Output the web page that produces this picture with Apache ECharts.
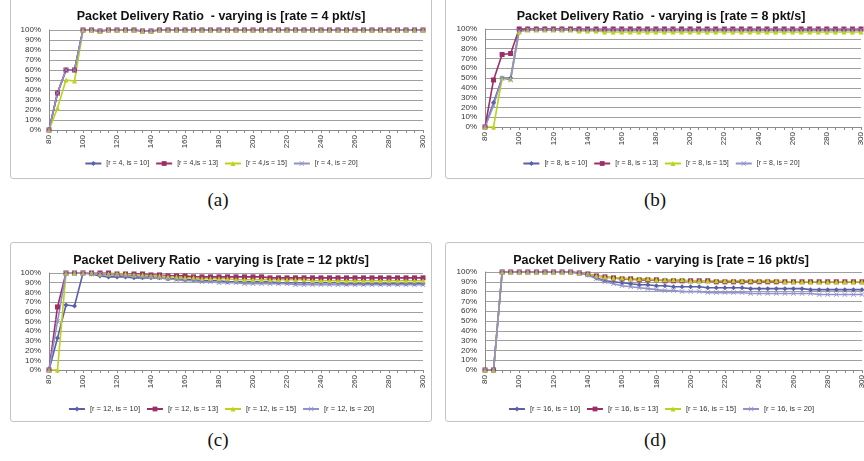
<!DOCTYPE html>
<html>
<head>
<meta charset="utf-8">
<script src="https://cdn.jsdelivr.net/npm/echarts@6/dist/echarts.min.js"></script>
<style>
body{margin:0;background:#fff;width:864px;height:461px;overflow:hidden;position:relative;}
.box{position:absolute;border:1px solid #c4c4c4;border-radius:3px;}
.chart{width:100%;height:100%;}
.cap{position:absolute;font-family:"Liberation Serif",serif;font-size:19px;color:#111;width:60px;text-align:center;}
</style>
</head>
<body>
<div class="box" style="left:10px;top:-3px;width:420px;height:180px"><div id="pa" class="chart"></div></div>
<div class="box" style="left:445px;top:-3px;width:430px;height:180px"><div id="pb" class="chart"></div></div>
<div class="box" style="left:10px;top:242px;width:420px;height:178px"><div id="pc" class="chart"></div></div>
<div class="box" style="left:445px;top:242px;width:430px;height:178px"><div id="pd" class="chart"></div></div>
<div class="cap" style="left:188px;top:189px">(a)</div>
<div class="cap" style="left:625px;top:189px">(b)</div>
<div class="cap" style="left:188px;top:429px">(c)</div>
<div class="cap" style="left:625px;top:429px">(d)</div>
<script>
// x轴：is 取值
var xs = ['80','85','90','95','100','105','110','115','120','125','130','135','140','145','150','155','160','165','170','175','180','185','190','195','200','205','210','215','220','225','230','235','240','245','250','255','260','265','270','275','280','285','290','295','300'];

// (a) rate = 4
var a10 = [0,37,60,60,100,100,99,100,100,100,100,99,99,100,100,100,100,100,100,100,100,100,100,100,100,100,100,100,100,100,100,100,100,100,100,100,100,100,100,100,100,100,100,100,100];
var a13 = [0,37,60,60,100,100,99,100,100,100,100,99,99,100,100,100,100,100,100,100,100,100,100,100,100,100,100,100,100,100,100,100,100,100,100,100,100,100,100,100,100,100,100,100,100];
var a15 = [0,22,50,49,100,100,99,100,100,100,100,99,99,100,100,100,100,100,100,100,100,100,100,100,100,100,100,100,100,100,100,100,100,100,100,100,100,100,100,100,100,100,100,100,100];
var a20 = [0,37,60,60,100,100,99,100,100,100,100,99,99,100,100,100,100,100,100,100,100,100,100,100,100,100,100,100,100,100,100,100,100,100,100,100,100,100,100,100,100,100,100,100,100];

// (b) rate = 8
var b10 = [0,25,50,50,100,100,100,100,100,100,100,100,99,99,99,99,99,99,99,99,99,99,99,99,99,99,99,99,99,99,99,99,99,99,99,99,99,99,99,99,99,99,99,99,99];
var b13 = [0,48,74,75,100,100,100,100,100,100,100,100,100,100,100,100,100,100,100,100,100,100,100,100,100,100,100,100,100,100,100,100,100,100,100,100,100,100,100,100,100,100,100,100,100];
var b15 = [0,0,50,49,97,99,99,99,99,99,99,98,98,98,97,97,97,97,97,97,97,97,97,97,97,97,97,97,97,97,97,97,97,97,97,97,97,97,97,97,97,97,97,97,97];
var b20 = [0,22,50,48,98,99,99,99,99,99,99,99,99,99,99,99,99,99,99,99,99,99,99,99,99,99,99,99,99,99,99,99,99,99,99,99,99,99,99,99,99,99,99,99,99];

// (c) rate = 12
var c10 = [0,33,67,66,100,99,97,96,96,96,95,95,95,95,94,94,93,93,92,92,92,91,91,91,91,91,91,90,90,90,90,90,90,90,90,89,89,89,89,89,89,89,89,89,89];
var c13 = [0,65,100,100,100,100,100,100,99,99,99,99,98,98,97,97,97,96,96,96,96,96,96,96,96,96,95,95,95,95,95,95,95,95,95,95,95,95,95,95,95,95,95,95,95];
var c15 = [0,0,100,100,100,100,99,99,99,99,98,98,97,97,96,96,95,95,94,94,94,94,93,93,93,93,93,93,93,93,93,92,92,92,92,92,92,92,92,92,92,92,92,92,92];
var c20 = [0,50,100,100,100,99,99,98,98,97,97,96,96,95,94,93,92,92,91,91,90,90,90,89,89,89,89,89,89,88,88,88,88,88,88,88,88,88,88,88,88,88,88,88,88];

// (d) rate = 16
var d10 = [0,0,100,100,100,100,100,100,100,100,100,99,97,94,91,90,89,88,87,87,86,86,85,85,85,85,84,84,84,84,84,83,83,83,83,83,83,83,82,82,82,82,82,82,82];
var d13 = [0,0,100,100,100,100,100,100,100,100,100,99,98,96,95,94,93,93,92,92,92,91,91,91,91,91,91,90,90,90,90,90,90,90,90,90,90,90,90,90,90,90,90,90,90];
var d15 = [0,0,100,100,100,100,100,100,100,100,100,99,98,96,95,94,94,93,93,93,92,92,92,92,91,91,91,91,91,91,91,91,91,91,91,90,90,90,90,90,90,90,90,90,90];
var d20 = [0,0,100,100,100,100,100,100,100,100,100,99,97,93,90,88,86,85,84,83,82,81,81,80,80,80,79,79,79,79,79,78,78,78,78,78,78,78,78,77,77,77,77,77,77];

var isList = [10, 13, 15, 20];
var colors = ['#5a60a8', '#9c2f69', '#bcd31a', '#9192c9'];
var xMark = 'path://M0,1L1,0L5,4L9,0L10,1L6,5L10,9L9,10L5,6L1,10L0,9L4,5Z';
var symbols = ['diamond', 'rect', 'triangle', xMark];

function makePanel(id, rate, datas, grid, titleTop, legendFont, nameFmt) {
    var chart = echarts.init(document.getElementById(id));
    var series = [];
    var names = [];
    for (var i = 0; i < 4; i++) {
        var nm = nameFmt(rate, isList[i]);
        names.push(nm);
        series.push({
            name: nm,
            type: 'line',
            data: datas[i],
            symbol: symbols[i],
            symbolSize: 5,
            showAllSymbol: true,
            lineStyle: {width: 1.6, color: colors[i]},
            itemStyle: {color: colors[i]},
            emphasis: {disabled: true},
            animation: false
        });
    }
    chart.setOption({
        textStyle: {fontFamily: 'Liberation Sans'},
        title: {
            text: 'Packet Delivery Ratio  - varying is [rate = ' + rate + ' pkt/s]',
            left: 'center',
            top: titleTop,
            textStyle: {fontSize: 12.5, fontWeight: 'bold', color: '#111', fontFamily: 'Liberation Sans'}
        },
        legend: {
            data: names,
            top: 157,
            left: 'center',
            itemWidth: 16,
            itemHeight: 6,
            itemGap: 6,
            textStyle: {fontSize: legendFont, color: '#333'}
        },
        grid: grid,
        xAxis: {
            type: 'category',
            data: xs,
            boundaryGap: false,
            axisLine: {lineStyle: {color: '#8c8c8c'}},
            axisTick: {show: true, interval: 0, length: 3, lineStyle: {color: '#8c8c8c'}},
            axisLabel: {interval: 3, rotate: 90, fontSize: 8, color: '#333', margin: 5}
        },
        yAxis: {
            type: 'value',
            min: 0,
            max: 100,
            interval: 10,
            axisLine: {show: true, lineStyle: {color: '#8c8c8c'}},
            axisTick: {show: false},
            axisLabel: {formatter: '{value}%', fontSize: 8, color: '#333', margin: 8},
            splitLine: {lineStyle: {color: '#a0a0a0'}}
        },
        series: series
    });
}

makePanel('pa', 4, [a10, a13, a15, a20], {left: 38, right: 8, top: 32, bottom: 48}, 7, 7,
    function(r, s) { return s == 10 || s == 20 ? '[r = ' + r + ', is = ' + s + ']' : '[r = ' + r + ',is = ' + s + ']'; });
makePanel('pb', 8, [b10, b13, b15, b20], {left: 39, right: 15, top: 31, bottom: 51}, 7, 7,
    function(r, s) { return '[r = ' + r + ', is = ' + s + ']'; });
makePanel('pc', 12, [c10, c13, c15, c20], {left: 38, right: 8, top: 30, bottom: 51}, 6, 7.5,
    function(r, s) { return '[r = ' + r + ', is = ' + s + ']'; });
makePanel('pd', 16, [d10, d13, d15, d20], {left: 39, right: 14, top: 29, bottom: 51}, 6, 7.5,
    function(r, s) { return '[r = ' + r + ', is = ' + s + ']'; });
</script>
</body>
</html>
